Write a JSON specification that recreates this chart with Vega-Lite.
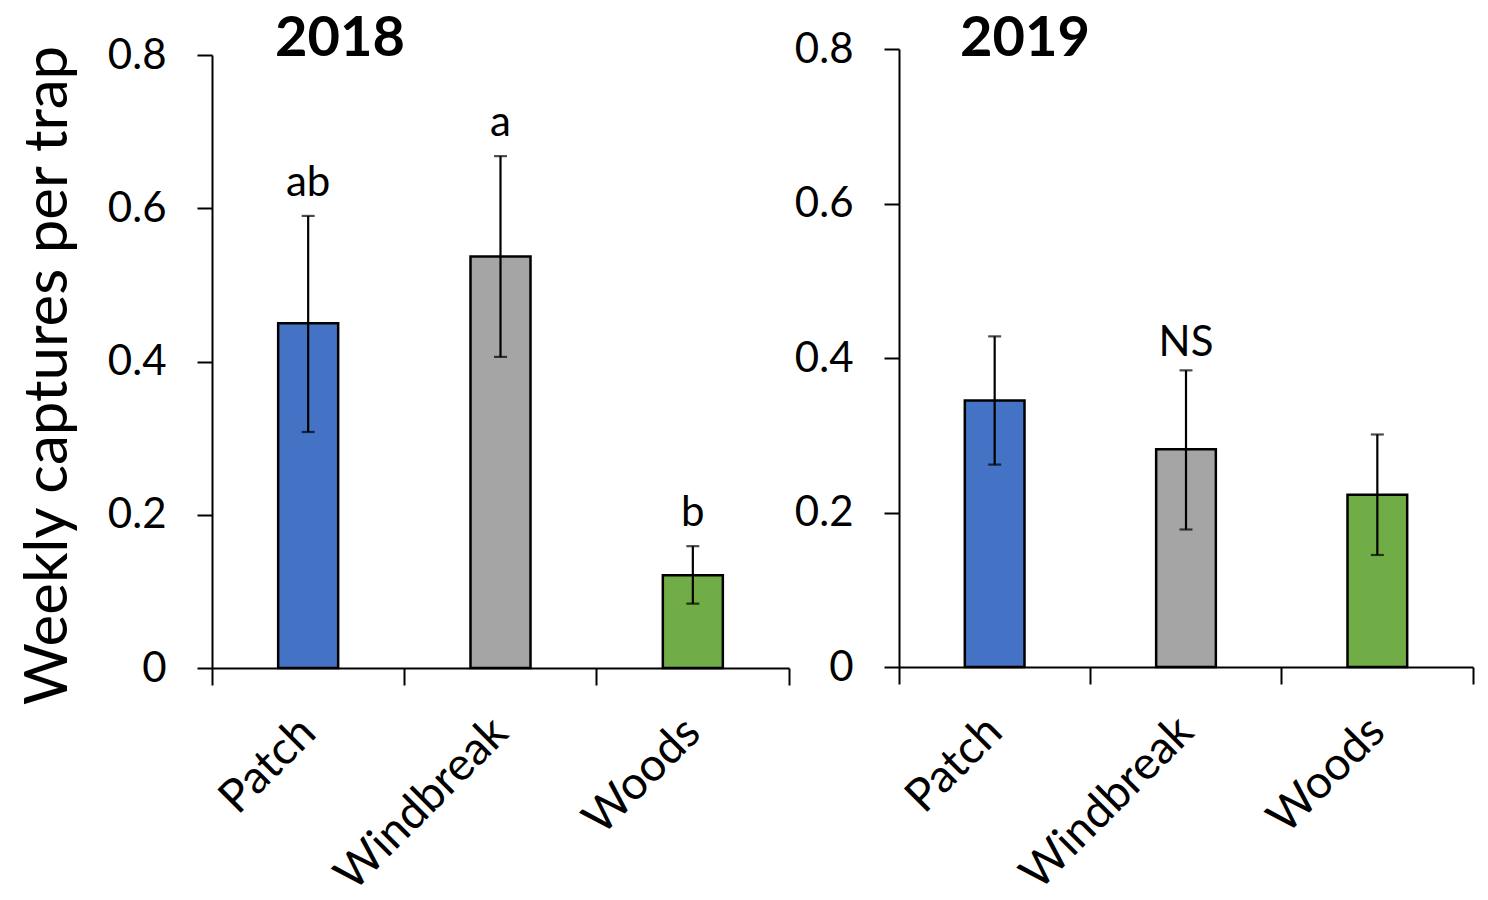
{
  "$schema": "https://vega.github.io/schema/vega-lite/v6.json",
  "padding": {"left": 18, "top": 11, "right": 10, "bottom": 5},
  "background": "white",
  "datasets": {
    "captures": [
      {"year": "2018", "site": "Patch", "mean": 0.450, "lo": 0.308, "hi": 0.590, "letter": "ab"},
      {"year": "2018", "site": "Windbreak", "mean": 0.537, "lo": 0.406, "hi": 0.668, "letter": "a"},
      {"year": "2018", "site": "Woods", "mean": 0.121, "lo": 0.084, "hi": 0.159, "letter": "b"},
      {"year": "2019", "site": "Patch", "mean": 0.345, "lo": 0.262, "hi": 0.428, "letter": ""},
      {"year": "2019", "site": "Windbreak", "mean": 0.282, "lo": 0.178, "hi": 0.384, "letter": "NS"},
      {"year": "2019", "site": "Woods", "mean": 0.223, "lo": 0.145, "hi": 0.301, "letter": ""}
    ]
  },
  "spacing": 4,
  "hconcat": [
    {
      "width": 577,
      "height": 613,
      "title": {"text": "2018", "anchor": "start", "frame": "group", "dx": 63, "offset": -34},
      "data": {"name": "captures"},
      "transform": [{"filter": "datum.year === '2018'"}],
      "encoding": {
        "x": {
          "field": "site",
          "type": "nominal",
          "sort": ["Patch", "Windbreak", "Woods"],
          "scale": {"paddingInner": 0, "paddingOuter": 0},
          "axis": {"title": null, "bandPosition": 1, "tickExtra": true}
        }
      },
      "layer": [
        {
          "mark": {"type": "bar", "width": {"band": 0.312}, "stroke": "black", "strokeWidth": 2.5},
          "encoding": {
            "y": {
              "field": "mean",
              "type": "quantitative",
              "title": "Weekly captures per trap",
              "scale": {"domain": [0, 0.8]},
              "axis": {"values": [0, 0.2, 0.4, 0.6, 0.8], "format": ".1~f", "titleY": 320}
            },
            "fill": {
              "field": "site",
              "type": "nominal",
              "scale": {"domain": ["Patch", "Windbreak", "Woods"], "range": ["#4472C4", "#A5A5A5", "#70AD47"]},
              "legend": null
            }
          }
        },
        {
          "mark": {"type": "errorbar", "ticks": true, "thickness": 2.2, "size": 13, "color": "black"},
          "encoding": {
            "y": {"field": "lo", "type": "quantitative", "title": "Weekly captures per trap"},
            "y2": {"field": "hi"}
          }
        },
        {
          "mark": {"type": "text", "baseline": "alphabetic", "dy": -20, "fontSize": 42, "color": "black"},
          "encoding": {
            "y": {"field": "hi", "type": "quantitative", "title": "Weekly captures per trap"},
            "text": {"field": "letter"}
          }
        }
      ]
    },
    {
      "width": 574,
      "height": 612,
      "title": {"text": "2019", "anchor": "start", "frame": "group", "dx": 61, "offset": -40},
      "data": {"name": "captures"},
      "transform": [{"filter": "datum.year === '2019'"}],
      "encoding": {
        "x": {
          "field": "site",
          "type": "nominal",
          "sort": ["Patch", "Windbreak", "Woods"],
          "scale": {"paddingInner": 0, "paddingOuter": 0},
          "axis": {"title": null, "bandPosition": 1, "tickExtra": true}
        }
      },
      "layer": [
        {
          "mark": {"type": "bar", "width": {"band": 0.312}, "stroke": "black", "strokeWidth": 2.5},
          "encoding": {
            "y": {
              "field": "mean",
              "type": "quantitative",
              "title": null,
              "scale": {"domain": [0, 0.8], "range": [612, -6]},
              "axis": {"values": [0, 0.2, 0.4, 0.6, 0.8], "format": ".1~f"}
            },
            "fill": {
              "field": "site",
              "type": "nominal",
              "scale": {"domain": ["Patch", "Windbreak", "Woods"], "range": ["#4472C4", "#A5A5A5", "#70AD47"]},
              "legend": null
            }
          }
        },
        {
          "mark": {"type": "errorbar", "ticks": true, "thickness": 2.2, "size": 13, "color": "black"},
          "encoding": {
            "y": {"field": "lo", "type": "quantitative", "title": null},
            "y2": {"field": "hi"}
          }
        },
        {
          "mark": {"type": "text", "baseline": "alphabetic", "dy": -14, "fontSize": 42, "color": "black"},
          "encoding": {
            "y": {"field": "hi", "type": "quantitative", "title": null},
            "text": {"field": "letter"}
          }
        }
      ]
    }
  ],
  "config": {
    "font": "Lato",
    "view": {"stroke": null},
    "title": {"fontSize": 56, "fontWeight": "bold", "color": "black", "font": "Lato"},
    "axis": {
      "grid": false,
      "domainColor": "black",
      "domainWidth": 2,
      "tickColor": "black",
      "tickWidth": 2,
      "labelColor": "black",
      "labelFont": "Lato",
      "labelFontSize": 42,
      "labelLimit": 0,
      "titleFont": "Lato",
      "titleColor": "black",
      "titleFontWeight": "normal",
      "titleFontSize": 60
    },
    "axisY": {"tickSize": 15, "labelPadding": 31, "titlePadding": 28},
    "axisX": {"tickSize": 17, "labelAngle": -45, "labelAlign": "right", "labelBaseline": "middle", "labelPadding": 40, "labelFontSize": 46}
  }
}
